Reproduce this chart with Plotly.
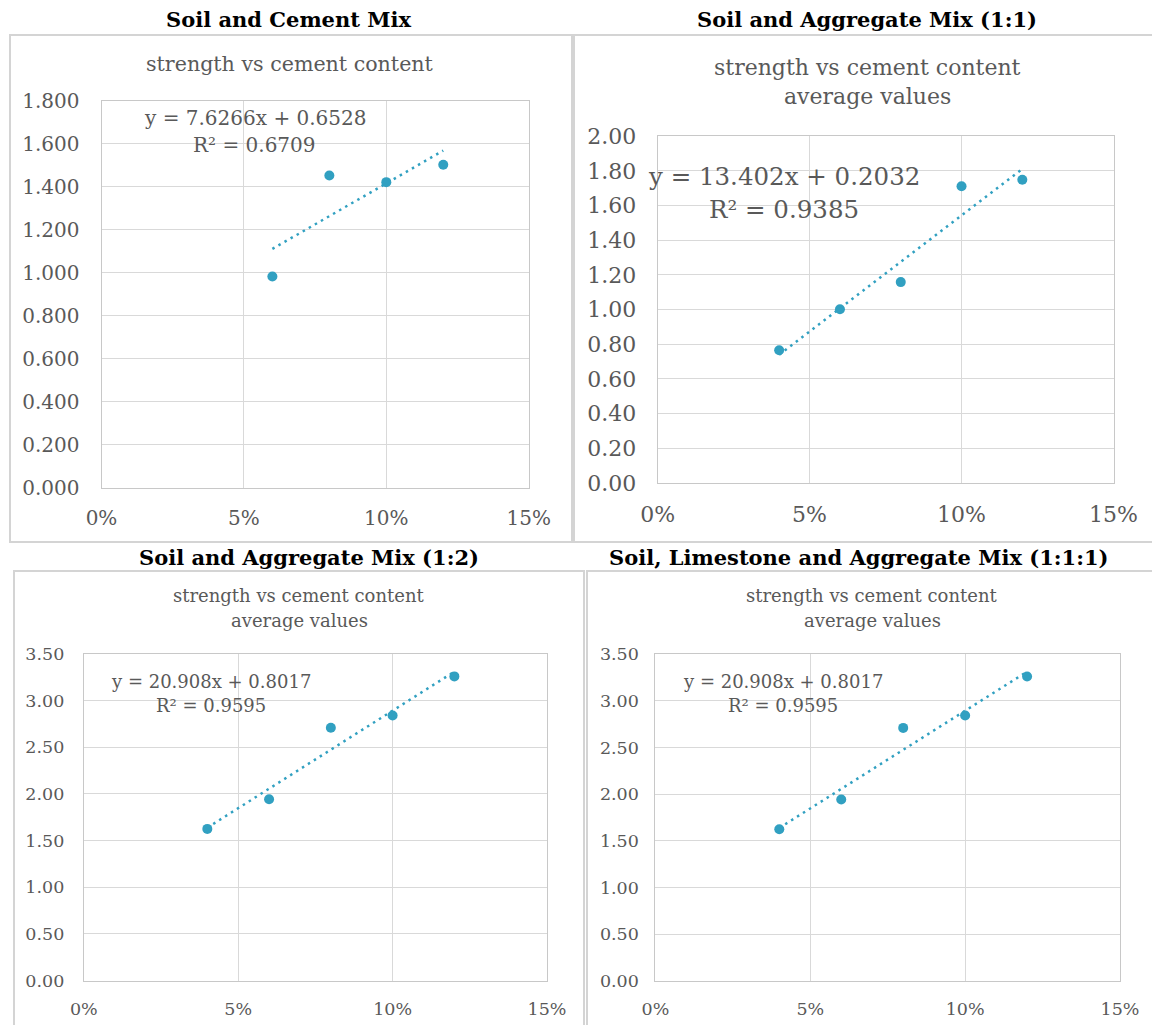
import plotly.graph_objects as go
import numpy as np

# ---------------- data ----------------
titles = ["Soil and Cement Mix", "Soil and Aggregate Mix (1:1)",
          "Soil and Aggregate Mix (1:2)", "Soil, Limestone and Aggregate Mix (1:1:1)"]
subtitles = [["strength vs cement content"],
             ["strength vs cement content", "average values"],
             ["strength vs cement content", "average values"],
             ["strength vs cement content", "average values"]]

cement_1 = [0.06, 0.08, 0.10, 0.12]
strength_1 = [0.982, 1.452, 1.421, 1.502]

cement_2 = [0.04, 0.06, 0.08, 0.10, 0.12]
strength_2 = [0.765, 1.001, 1.158, 1.711, 1.749]

cement_3 = [0.04, 0.06, 0.08, 0.10, 0.12]
strength_3 = [1.625, 1.943, 2.709, 2.841, 3.260]

cement_4 = [0.04, 0.06, 0.08, 0.10, 0.12]
strength_4 = [1.625, 1.943, 2.709, 2.841, 3.260]

slopes = [7.6266, 13.402, 20.908, 20.908]
intercepts = [0.6528, 0.2032, 0.8017, 0.8017]
equations = ["y = 7.6266x + 0.6528", "y = 13.402x + 0.2032",
             "y = 20.908x + 0.8017", "y = 20.908x + 0.8017"]
r2_labels = ["R² = 0.6709", "R² = 0.9385", "R² = 0.9595", "R² = 0.9595"]

y_max = [1.8, 2.0, 3.5, 3.5]
y_step = [0.2, 0.2, 0.5, 0.5]
y_fmt = [".3f", ".2f", ".2f", ".2f"]
x_ticks = [0, 0.05, 0.10, 0.15]

xs = [cement_1, cement_2, cement_3, cement_4]
ys = [strength_1, strength_2, strength_3, strength_4]

# ---------------- style ----------------
W, H = 1152, 1025
def px(x):
    return x / W
def py(y):
    return 1 - y / H

MARK = "#31A0C1"
GRAY = "#595959"
GRID = "#D9D9D9"
BOX = "#D4D4D4"
SERIF = "DejaVu Serif"

# plot areas in pixels (left, right, top, bottom)
plot_px = [(101.5, 528.7, 100.7, 487.6),
           (657.6, 1113.5, 136.2, 482.8),
           (83.8, 547.0, 654.0, 980.5),
           (655.4, 1120.0, 654.0, 981.0)]
tick_size = [20, 22, 17.5, 17.5]
ystand = [17, 16, 15, 12]
xstand = [12, 12, 12, 12]

title_pos = [(288, 19), (867, 19), (309, 557), (858, 557)]
title_size = [21, 21, 21, 21]
sub_pos = [(290, [64]), (867, [67, 97]), (299, [595, 620]), (872, [595, 620])]
sub_size = [20.6, 22, 18, 18]
eq_pos = [(254.5, 118, 145), (783.7, 177, 210), (210.5, 681, 705), (782.8, 681, 705)]
eq_size = [20, 24.5, 18, 18]

boxes = [(10, 572, 35, 542), (574, 1160, 35, 542), (14, 584, 571, 1030), (587, 1160, 571, 1030)]

fig = go.Figure()
annotations = []
shapes = []

for i in range(4):
    ax = "" if i == 0 else str(i + 1)
    l, r, t, b = plot_px[i]
    x = np.array(xs[i])
    y = np.array(ys[i])
    # trendline from coefficients across data range
    tx = np.array([x.min(), x.max()])
    ty = slopes[i] * tx + intercepts[i]
    fig.add_trace(go.Scatter(x=tx, y=ty, mode="lines", xaxis="x" + ax, yaxis="y" + ax,
                             line=dict(color=MARK, width=2.5, dash="2.5px,4.5px"),
                             showlegend=False, hoverinfo="skip"))
    fig.add_trace(go.Scatter(x=x, y=y, mode="markers", xaxis="x" + ax, yaxis="y" + ax,
                             marker=dict(color=MARK, size=10), showlegend=False))
    fig.update_layout(**{
        "xaxis" + ax: dict(domain=[px(l), px(r)], anchor="y" + ax, range=[0, 0.15],
                           tickvals=x_ticks, tickformat=".0%", showgrid=True, gridcolor=GRID,
                           gridwidth=1, zeroline=False, showline=True, linecolor="#C8C8C8",
                           linewidth=1, mirror=True, ticks="", ticklabelstandoff=xstand[i],
                           automargin=False,
                           tickfont=dict(family=SERIF, size=tick_size[i], color=GRAY),
                           fixedrange=True),
        "yaxis" + ax: dict(domain=[py(b), py(t)], anchor="x" + ax, range=[0, y_max[i]],
                           dtick=y_step[i], tick0=0, tickformat=y_fmt[i], showgrid=True,
                           gridcolor=GRID, gridwidth=1, zeroline=False, showline=True,
                           linecolor="#C8C8C8", linewidth=1, mirror=True, ticks="",
                           ticklabelstandoff=ystand[i], automargin=False,
                           tickfont=dict(family=SERIF, size=tick_size[i], color=GRAY),
                           fixedrange=True),
    })
    # panel box
    bl, br, bt, bb = boxes[i]
    shapes.append(dict(type="rect", xref="paper", yref="paper", x0=px(bl), x1=px(br),
                       y0=py(bb), y1=py(bt), line=dict(color=BOX, width=2), layer="below"))
    # panel title
    annotations.append(dict(text="<b>" + titles[i] + "</b>", xref="paper", yref="paper",
                            x=px(title_pos[i][0]), y=py(title_pos[i][1]), showarrow=False,
                            xanchor="center", yanchor="middle",
                            font=dict(family=SERIF, size=title_size[i], color="black")))
    # subtitle lines
    for line, yy in zip(subtitles[i], sub_pos[i][1]):
        annotations.append(dict(text=line, xref="paper", yref="paper", x=px(sub_pos[i][0]),
                                y=py(yy), showarrow=False, xanchor="center", yanchor="middle",
                                font=dict(family=SERIF, size=sub_size[i], color=GRAY)))
    # equation and R²
    ex, ey1, ey2 = eq_pos[i]
    annotations.append(dict(text=equations[i], xref="paper", yref="paper", x=px(ex), y=py(ey1),
                            showarrow=False, xanchor="center", yanchor="middle",
                            font=dict(family=SERIF, size=eq_size[i], color=GRAY)))
    annotations.append(dict(text=r2_labels[i], xref="paper", yref="paper", x=px(ex), y=py(ey2),
                            showarrow=False, xanchor="center", yanchor="middle",
                            font=dict(family=SERIF, size=eq_size[i], color=GRAY)))

fig.update_layout(width=W, height=H, margin=dict(l=0, r=0, t=0, b=0, pad=0, autoexpand=False),
                  paper_bgcolor="white", plot_bgcolor="white",
                  annotations=annotations, shapes=shapes, showlegend=False)

fig.write_html("out.html", config={"displayModeBar": False},
               post_script="document.body.style.margin='0';document.body.style.overflow='hidden';")
